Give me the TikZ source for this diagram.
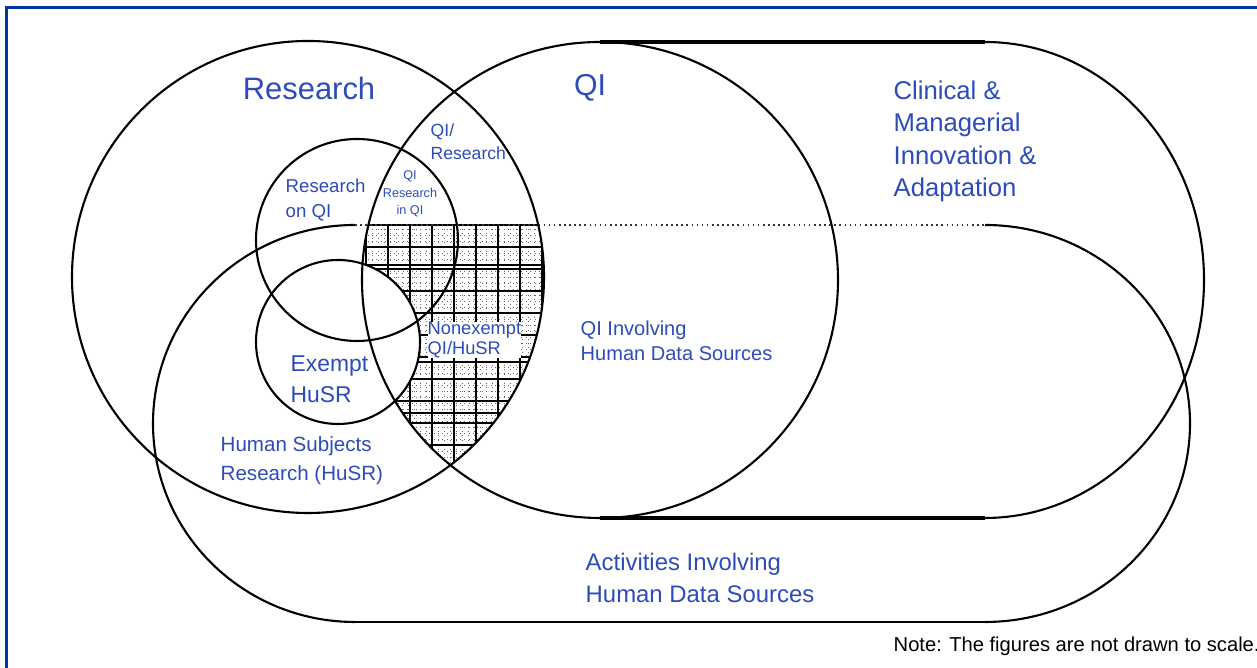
\documentclass[tikz,border=0pt]{standalone}
\usepackage{fontspec}
\setmainfont{Liberation Sans}
\definecolor{labelblue}{RGB}{45,75,185}
\definecolor{frameblue}{RGB}{0,56,160}
\begin{document}
\begin{tikzpicture}[x=0.01cm,y=-0.01cm,
  outline/.style={black,line width=0.6pt},
  lbl/.style={text=labelblue,inner sep=0pt,align=left},
  hatchthin/.style={black!60,line width=0.25pt,densely dotted},
  hatchthick/.style={black,line width=0.45pt}]
 \useasboundingbox (0,0) rectangle (1257,668);
 \clip (0,0) rectangle (1257,668);
 \draw[frameblue,line width=0.6pt] (6.5,7.5) rectangle (1300,700);
 \begin{scope}
  \clip (308,277) circle (236);
  \clip (600,280) circle (238);
  \clip (300,225) rectangle (600,640);
  \foreach \x in {354,360,...,560} \draw[hatchthin] (\x,220) -- (\x,470);
  \foreach \y in {229,235,...,470} \draw[hatchthin] (350,\y) -- (560,\y);
  \foreach \x in {366,388,...,560} \draw[hatchthick] (\x,220) -- (\x,470);
  \foreach \y in {225,247,...,470} \draw[hatchthick] (350,\y) -- (560,\y);
  \foreach \y in {265,313,362,413} \draw[black,line width=0.8pt] (350,\y) -- (560,\y);
  \fill[white] (338,342) circle (82);
 \end{scope}
 \draw[outline] (308,277) circle (236);
 \draw[outline] (600,280) circle (238);
 \draw[outline] (357,240) circle (101);
 \draw[outline] (338,342) circle (82);
 \draw[black,line width=0.9pt] (600,42) -- (985,42);
 \draw[outline] (985,42) arc[start angle=-90,end angle=90,x radius=219,y radius=238];
 \draw[black,line width=0.9pt] (985,518) -- (600,518);
 \draw[black!80,line width=0.45pt,densely dotted] (355,225) -- (985,225);
 \draw[outline] (985,225) arc[start angle=-90,end angle=90,x radius=205,y radius=198.5];
 \draw[black,line width=0.4pt] (985,622) -- (355,622);
 \draw[outline] (355,622) arc[start angle=90,end angle=270,x radius=202,y radius=198.5];
 \node[lbl,font=\fontsize{8.8}{10}\selectfont] (research) at (309,88) {Research};
 \node[lbl,font=\fontsize{8.6}{10}\selectfont] (qi) at (590,88) {QI};
 \node[lbl,anchor=north west,font=\fontsize{7.3}{9.25}\selectfont] (clinical) at (893,80) {Clinical \&\\Managerial\\Innovation \&\\Adaptation};
 \node[lbl,anchor=west,font=\fontsize{5}{6.5}\selectfont] (qires) at (430,142) {QI/\\Research};
 \node[lbl,anchor=west,font=\fontsize{5.3}{7.1}\selectfont] (resonqi) at (285,200) {Research\\on QI};
 \node[lbl,align=center,font=\fontsize{3.6}{5}\selectfont] (qiresinqi) at (410,194) {QI\\Research\\in QI};
 \node[lbl,anchor=west,fill=white,font=\fontsize{5.2}{5.7}\selectfont] (nonexempt) at (427,340) {Nonexempt\\QI/HuSR};
 \node[lbl,anchor=west,font=\fontsize{6.5}{8.8}\selectfont] (exempt) at (290,379) {Exempt\\HuSR};
 \node[lbl,anchor=west,font=\fontsize{5.7}{7.1}\selectfont] (qihds) at (580,341) {QI Involving\\Human Data Sources};
 \node[lbl,anchor=west,font=\fontsize{5.85}{8.25}\selectfont] (husr) at (220,461) {Human Subjects\\Research (HuSR)};
 \node[lbl,anchor=west,font=\fontsize{6.8}{9.1}\selectfont] (activities) at (585,578) {Activities Involving\\Human Data Sources};
 \node[inner sep=0pt,anchor=west,font=\fontsize{5.73}{7}\selectfont] (note) at (893,646) {Note: The figures are not drawn to scale.};
\end{tikzpicture}
\end{document}
